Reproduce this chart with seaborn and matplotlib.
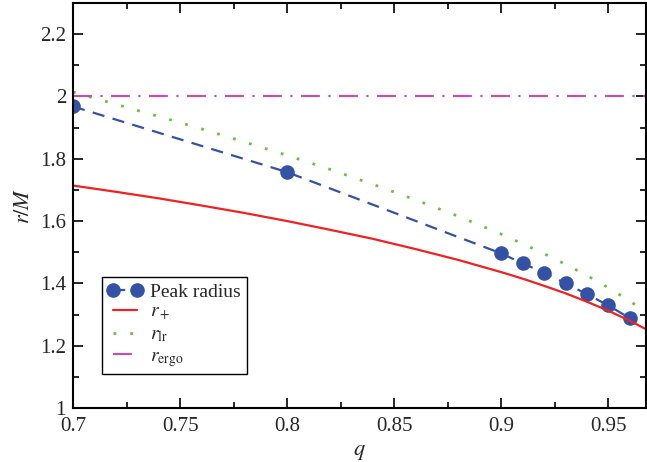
import numpy as np
import pandas as pd
import matplotlib
matplotlib.use("Agg")
import matplotlib.pyplot as plt
from matplotlib.ticker import MultipleLocator
import seaborn as sns

# values
q_peak = [0.70, 0.80, 0.90, 0.91, 0.92, 0.93, 0.94, 0.95, 0.96]
r_peak = [1.968, 1.757, 1.496, 1.464, 1.434, 1.400, 1.365, 1.329, 1.288]

q_line = [0.70, 0.72, 0.74, 0.76, 0.78, 0.80, 0.82, 0.84, 0.86, 0.88,
          0.90, 0.91, 0.92, 0.93, 0.94, 0.95, 0.96, 0.9675]
r_plus = [1.714, 1.694, 1.673, 1.650, 1.626, 1.600, 1.572, 1.543, 1.510, 1.475,
          1.436, 1.415, 1.392, 1.368, 1.341, 1.312, 1.280, 1.253]
r_lr = [2.014, 1.975, 1.936, 1.896, 1.854, 1.811, 1.766, 1.718, 1.668, 1.615,
        1.558, 1.527, 1.495, 1.461, 1.425, 1.386, 1.343, 1.308]
r_ergo = [2.0] * len(q_line)

sns.set_style("ticks")
plt.rcParams['font.family'] = ['Liberation Serif', 'DejaVu Serif']
plt.rcParams['mathtext.fontset'] = 'stix'

fig = plt.figure(figsize=(6.47, 4.62), dpi=100)
ax = fig.add_axes([0.1128, 0.1169, 0.8856, 0.8766])

blue = '#3352a5'
red = '#ee2222'
green = '#66c244'
magenta = '#bb55aa'

sns.lineplot(x=q_peak, y=r_peak, ax=ax, color=blue, lw=1.6,
             linestyle=(0, (5.5, 3.8)), marker='o', markersize=10.5,
             markeredgewidth=0, label='Peak radius')
sns.lineplot(x=q_line, y=r_plus, ax=ax, color=red, lw=1.6, label=r'$r_+$')
sns.lineplot(x=q_line, y=r_lr, ax=ax, color=green, lw=2.0,
             linestyle=(0, (1, 5)), label=r'$r_{\rm lr}$')
sns.lineplot(x=q_line, y=r_ergo, ax=ax, color=magenta, lw=1.6,
             linestyle=(0, (8.5, 3.8, 1, 3.8)), label=r'$r_{\rm ergo}$')

ax.set_xlim(0.7, 0.9675)
ax.set_ylim(1.0, 2.3)
ax.xaxis.set_minor_locator(MultipleLocator(0.025))
ax.yaxis.set_minor_locator(MultipleLocator(0.1))
ax.set_xticks([0.7, 0.75, 0.8, 0.85, 0.9, 0.95])
ax.set_xticklabels(['0.7', '0.75', '0.8', '0.85', '0.9', '0.95'])
ax.set_yticks([1.0, 1.2, 1.4, 1.6, 1.8, 2.0, 2.2])
ax.set_yticklabels(['1', '1.2', '1.4', '1.6', '1.8', '2', '2.2'])
ax.tick_params(which='both', direction='in', top=True, right=True,
               labelsize=15, color='black', width=1.2)
ax.tick_params(which='major', length=7)
ax.tick_params(axis='x', which='major', pad=6.5)
ax.tick_params(axis='y', which='major', pad=5)
ax.tick_params(which='minor', length=4.5)
for s in ax.spines.values():
    s.set_linewidth(1.5)
    s.set_color('black')

ax.set_xlabel(r'$q$', fontsize=16, labelpad=5)
ax.set_ylabel(r'$r/M$', fontsize=16, labelpad=4)

leg = ax.legend(loc='lower left', bbox_to_anchor=(0.05, 0.083), fontsize=14,
                numpoints=2, handlelength=1.8, handletextpad=0.4,
                labelspacing=0.15, borderpad=0.3, fancybox=False,
                framealpha=1, edgecolor='black', borderaxespad=0)
leg.get_frame().set_linewidth(1.0)

fig.savefig('out.png', dpi=100)
